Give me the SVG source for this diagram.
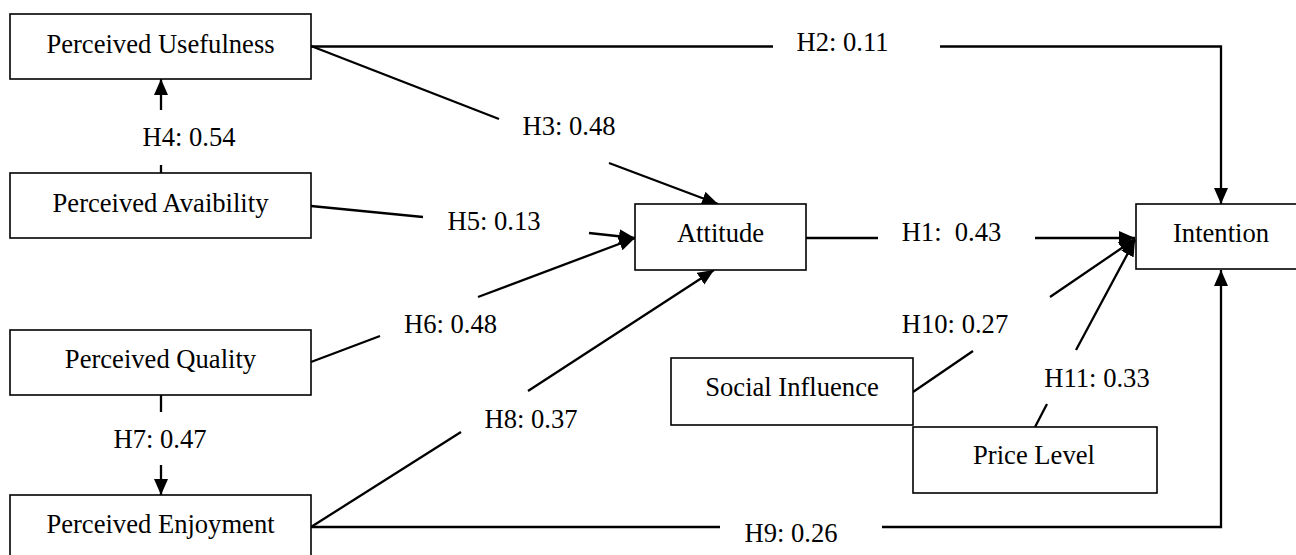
<svg xmlns="http://www.w3.org/2000/svg" width="1296" height="555" viewBox="0 0 1296 555">
<style>
.box{fill:#fff;stroke:#000;stroke-width:1.6}
.t{font-family:"Liberation Serif","Times New Roman",serif;font-size:26.6px;fill:#000;text-anchor:middle;white-space:pre}
.c{fill:none;stroke:#000;stroke-width:2.3}
</style>
<defs>
<marker id="ah" markerUnits="userSpaceOnUse" markerWidth="17" markerHeight="15" refX="16" refY="7" orient="auto">
<path d="M0,0 L16,7 L0,14 Z" fill="#000"/>
</marker>
</defs>
<rect width="1296" height="555" fill="#fff"/>
<g id="connectors">
<path class="c" d="M311,46.5 H773"/>
<path class="c" d="M940,46.5 H1221 V204" marker-end="url(#ah)"/>
<path class="c" d="M311,46 L499,119"/>
<path class="c" d="M609,163 L718,204" marker-end="url(#ah)"/>
<path class="c" d="M161,173 V165"/>
<path class="c" d="M161,110 V79" marker-end="url(#ah)"/>
<path class="c" d="M311,206 L423,217"/>
<path class="c" d="M589,233 L635,238" marker-end="url(#ah)"/>
<path class="c" d="M311,362 L380,336"/>
<path class="c" d="M478,297 L635,238" marker-end="url(#ah)"/>
<path class="c" d="M161,395 V412"/>
<path class="c" d="M161,465 V495" marker-end="url(#ah)"/>
<path class="c" d="M311,527 L461,432"/>
<path class="c" d="M528,391 L714,270" marker-end="url(#ah)"/>
<path class="c" d="M311,527 H720"/>
<path class="c" d="M882,527 H1221 V270" marker-end="url(#ah)"/>
<path class="c" d="M806,238 H878"/>
<path class="c" d="M1035,238 H1135" marker-end="url(#ah)"/>
<path class="c" d="M913,392 L973,351"/>
<path class="c" d="M1050,297 L1135,239" marker-end="url(#ah)"/>
<path class="c" d="M1035,427 L1047,404"/>
<path class="c" d="M1076,350 L1135,240" marker-end="url(#ah)"/>
<text class="t" x="842.5" y="51">H2: 0.11</text>
<text class="t" x="569" y="135">H3: 0.48</text>
<text class="t" x="189" y="146">H4: 0.54</text>
<text class="t" x="494" y="230">H5: 0.13</text>
<text class="t" x="450.5" y="333">H6: 0.48</text>
<text class="t" x="160" y="448">H7: 0.47</text>
<text class="t" x="531" y="428">H8: 0.37</text>
<text class="t" x="791" y="542">H9: 0.26</text>
<text class="t" x="951.5" y="241" xml:space="preserve">H1:  0.43</text>
<text class="t" x="955" y="333">H10: 0.27</text>
<text class="t" x="1097" y="387">H11: 0.33</text>
</g>
<g id="pu"><rect class="box" x="10" y="14" width="301" height="65"/><text class="t" x="160.5" y="53">Perceived Usefulness</text></g>
<g id="pa"><rect class="box" x="10" y="173" width="301" height="65"/><text class="t" x="160.5" y="212">Perceived Avaibility</text></g>
<g id="pq"><rect class="box" x="10" y="330" width="301" height="65"/><text class="t" x="160.5" y="368">Perceived Quality</text></g>
<g id="pe"><rect class="box" x="10" y="495" width="301" height="70"/><text class="t" x="160.5" y="533">Perceived Enjoyment</text></g>
<g id="attitude"><rect class="box" x="635" y="204" width="171" height="66"/><text class="t" x="720.5" y="242">Attitude</text></g>
<g id="intention"><rect class="box" x="1136" y="204" width="170" height="65"/><text class="t" x="1221" y="242">Intention</text></g>
<g id="social"><rect class="box" x="671" y="358" width="242" height="67"/><text class="t" x="792" y="396">Social Influence</text></g>
<g id="price"><rect class="box" x="913" y="427" width="244" height="66"/><text class="t" x="1034" y="464">Price Level</text></g>
</svg>
